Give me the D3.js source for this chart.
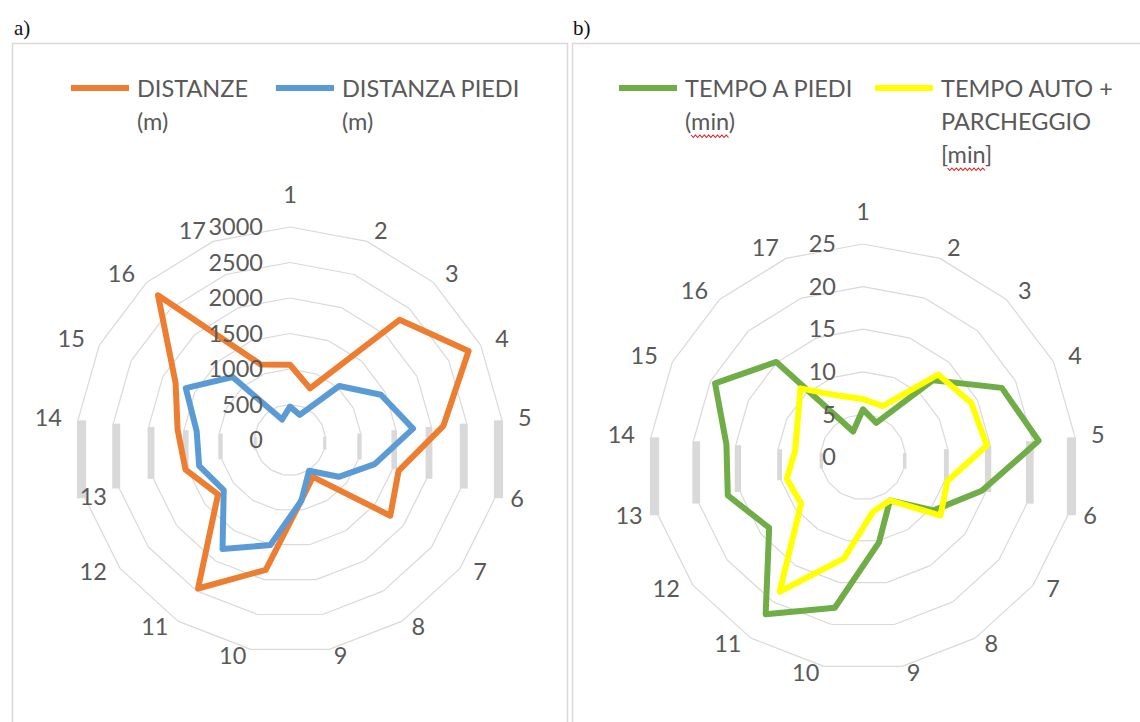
<!DOCTYPE html>
<html>
<head>
<meta charset="utf-8">
<script src="https://cdn.jsdelivr.net/npm/d3@7"></script>
<style>
  body { margin: 0; background: #fff; }
  svg text { font-family: Lato, "Open Sans", sans-serif; }
</style>
</head>
<body>
<svg id="chart" width="1140" height="722"></svg>
<script>
// categories (17 spokes)
var categories = ["1", "2", "3", "4", "5", "6", "7", "8", "9", "10", "11", "12", "13", "14", "15", "16", "17"];

// panel a) distances (m)
var distanze = [1060, 780, 2290, 2810, 2170, 1590, 1770, 610, 865, 1860, 2460, 1270, 1530, 1590, 1800, 2760, 1140];
var distanzaPiedi = [470, 380, 1030, 1430, 1740, 1240, 860, 510, 870, 1505, 1805, 1170, 1330, 1320, 1640, 1200, 310];
var ticksA = [0, 500, 1000, 1500, 2000, 2500, 3000];

// panel b) times (min)
var tempoPiedi = [5.6, 4.3, 12.2, 18.2, 20.7, 14.5, 10.4, 6.0, 10.2, 18.0, 21.7, 13.8, 16.5, 16.1, 19.4, 15.1, 3.2];
var tempoAuto = [6.8, 6.4, 13.1, 14.2, 14.6, 10.3, 11.4, 6.0, 6.5, 12.1, 18.6, 9.1, 9.3, 8.0, 8.6, 10.9, 7.7];
var ticksB = [0, 5, 10, 15, 20, 25];

// legend texts (already wrapped as in the picture)
var legendA = [["DISTANZE", "(m)"], ["DISTANZA PIEDI", "(m)"]];
var legendB = [["TEMPO A PIEDI", "(min)"], ["TEMPO AUTO +", "PARCHEGGIO", "[min]"]];

var textColor = "#595959",
    gridColor = "#d9d9d9",
    fontSize = 23.5;

var svg = d3.select("#chart");

// panel frames and letters
svg.append("rect").attr("x", 12.5).attr("y", 43.5).attr("width", 555).attr("height", 700)
    .attr("fill", "none").attr("stroke", gridColor).attr("stroke-width", 1.5);
svg.append("rect").attr("x", 572.5).attr("y", 43.5).attr("width", 600).attr("height", 700)
    .attr("fill", "none").attr("stroke", gridColor).attr("stroke-width", 1.5);
svg.append("text").attr("x", 14).attr("y", 35).text("a)")
    .style("font-family", "'Liberation Serif', serif").attr("font-size", 21).attr("fill", "#111");
svg.append("text").attr("x", 573).attr("y", 35).text("b)")
    .style("font-family", "'Liberation Serif', serif").attr("font-size", 21).attr("fill", "#111");

function drawRadar(opt) {
  var n = categories.length;
  var g = svg.append("g").attr("transform", "translate(" + opt.cx + "," + opt.cy + ")");

  var r = d3.scaleLinear().domain([0, d3.max(opt.ticks)]).range([0, opt.radius]);
  var angle = d3.scaleLinear().domain([0, n]).range([0, 2 * Math.PI]);

  // rings: thin lines, the nearly vertical edges come out as grey bars like in the picture
  opt.ticks.filter(function (t) { return t > 0; }).forEach(function (t) {
    var pts = d3.range(n).map(function (i) {
      return [r(t) * Math.sin(angle(i)), -r(t) * Math.cos(angle(i))];
    });
    pts.forEach(function (p, i) {
      var q = pts[(i + 1) % n];
      var dx = q[0] - p[0], dy = q[1] - p[1];
      if (Math.abs(dx) < 0.15 * Math.abs(dy)) {
        g.append("rect")
          .attr("x", Math.min(p[0], q[0]) - 1)
          .attr("y", Math.min(p[1], q[1]))
          .attr("width", Math.abs(dx) + 2)
          .attr("height", Math.abs(dy))
          .attr("fill", gridColor);
      } else {
        g.append("line")
          .attr("x1", p[0]).attr("y1", p[1]).attr("x2", q[0]).attr("y2", q[1])
          .attr("stroke", gridColor).attr("stroke-width", 1.2);
      }
    });
  });

  // series
  var line = d3.lineRadial()
      .angle(function (d, i) { return angle(i); })
      .radius(function (d) { return r(d); })
      .curve(d3.curveLinearClosed);

  opt.series.forEach(function (s) {
    g.append("path")
      .datum(s.values)
      .attr("d", line)
      .attr("fill", "none")
      .attr("stroke", s.color)
      .attr("stroke-width", 6)
      .attr("stroke-linejoin", "round");
  });

  // value labels along the vertical axis
  g.selectAll(".tick")
    .data(opt.ticks)
    .enter()
    .append("text")
      .attr("x", -27)
      .attr("y", function (d) { return -r(d); })
      .attr("dy", "0.35em")
      .attr("text-anchor", "end")
      .attr("font-size", fontSize)
      .attr("fill", textColor)
      .text(function (d) { return d; });

  // category labels: anchored on the side facing the chart, like excel does
  categories.forEach(function (c, i) {
    var a = angle(i), s = Math.sin(a);
    var anchor = Math.abs(s) < 1e-6 ? "middle" : (s > 0 ? "start" : "end");
    var x = (opt.radius + 14) * s + (s > 1e-6 ? 2 : (s < -1e-6 ? -2 : 0));
    var y = i === 0 ? -(opt.radius + 32) : -(opt.radius + 9) * Math.cos(a) - 2;
    var shift = (opt.labelShift && opt.labelShift[i]) || null;
    if (shift) { anchor = "start"; x = x + shift[0]; y = y + shift[1]; }
    g.append("text")
      .attr("x", x)
      .attr("y", y)
      .attr("dy", "0.35em")
      .attr("text-anchor", anchor)
      .attr("font-size", fontSize)
      .attr("fill", textColor)
      .text(c);
  });

  // legend
  opt.series.forEach(function (s, k) {
    var lx = opt.legendX[k];
    svg.append("line")
      .attr("x1", lx).attr("x2", lx + 58)
      .attr("y1", 88).attr("y2", 88)
      .attr("stroke", s.color).attr("stroke-width", 6);
    s.label.forEach(function (txt, j) {
      var t = svg.append("text")
        .attr("x", lx + 66)
        .attr("y", 97 + j * 33)
        .attr("font-size", fontSize)
        .attr("fill", textColor)
        .text(txt);
      // red spell-check squiggle under "min"
      var m = txt.indexOf("min");
      if (m >= 0) {
        var node = t.node();
        var x0 = node.getStartPositionOfChar(m).x,
            x1 = node.getEndPositionOfChar(m + 2).x,
            y0 = 97 + j * 33 + 5;
        var pts = [];
        for (var xx = x0, up = true; xx <= x1; xx += 2.2, up = !up) pts.push([xx, up ? y0 : y0 + 2.5]);
        svg.append("path")
          .attr("d", d3.line()(pts))
          .attr("fill", "none")
          .attr("stroke", "#e31b1b")
          .attr("stroke-width", 1.1);
      }
    });
  });
}

drawRadar({
  cx: 290, cy: 440, radius: 213,
  ticks: ticksA,
  legendX: [71, 276],
  labelShift: { 12: [10, -2] },
  series: [
    { values: distanze, color: "#ed7d31", label: legendA[0] },
    { values: distanzaPiedi, color: "#5b9bd5", label: legendA[1] }
  ]
});

drawRadar({
  cx: 863, cy: 457, radius: 213,
  ticks: ticksB,
  legendX: [619, 875],
  series: [
    { values: tempoPiedi, color: "#70ad47", label: legendB[0] },
    { values: tempoAuto, color: "#ffff00", label: legendB[1] }
  ]
});
</script>
</body>
</html>
